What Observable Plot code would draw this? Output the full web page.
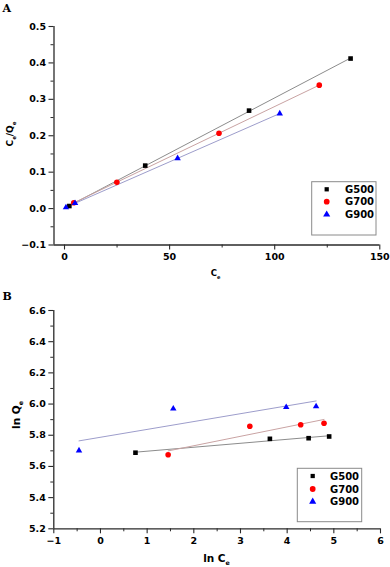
<!DOCTYPE html>
<html><head><meta charset="utf-8">
<script src="https://cdn.jsdelivr.net/npm/d3@7"></script>
<script src="https://cdn.jsdelivr.net/npm/@observablehq/plot@0.6"></script>
<style>
body{margin:0;background:#fff}
#fig{position:relative;width:390px;height:567px;overflow:hidden;background:#fff}
#fig svg{position:absolute;left:0;display:block;overflow:visible}
</style></head><body><div id="fig"></div>
<script>
// ---- shared series info ----
const seriesNames = ["G500", "G700", "G900"];
const seriesSymbols = ["square", "circle", "triangle"];
const seriesFills = ["#000000", "#ff0000", "#0000ff"];
const seriesLineColors = ["#8c8c8c", "#c9a3a3", "#9d9dcb"];
const seriesR = [2.6, 2.8, 2.4];

// ---- Panel A (Ce vs Ce/Qe) ----
const ceA_G500 = [2.3, 38.4, 87.8, 136.1];
const cqA_G500 = [0.007, 0.118, 0.269, 0.412];
const ceA_G700 = [4.4, 24.9, 73.5, 121.2];
const cqA_G700 = [0.016, 0.072, 0.207, 0.339];
const ceA_G900 = [0.7, 5.0, 53.8, 102.4];
const cqA_G900 = [0.003, 0.015, 0.138, 0.261];
const xDomainA = [-5, 150];
const yDomainA = [-0.1, 0.5];
const xTicksA = [0, 50, 100, 150];
const xMinorA = [25, 75, 125];
const yTicksA = [-0.1, 0.0, 0.1, 0.2, 0.3, 0.4, 0.5];
const yMinorA = [-0.05, 0.05, 0.15, 0.25, 0.35, 0.45];

// ---- Panel B (ln Ce vs ln Qe) ----
const lnCeB_G500 = [0.75, 3.63, 4.46, 4.90];
const lnQeB_G500 = [5.688, 5.777, 5.781, 5.792];
const lnCeB_G700 = [1.45, 3.20, 4.29, 4.79];
const lnQeB_G700 = [5.675, 5.858, 5.867, 5.877];
const lnCeB_G900 = [-0.46, 1.56, 3.98, 4.62];
const lnQeB_G900 = [5.702, 5.970, 5.980, 5.985];
const xDomainB = [-1, 6];
const yDomainB = [5.2, 6.6];
const xTicksB = [-1, 0, 1, 2, 3, 4, 5, 6];
const xMinorB = [-0.5, 0.5, 1.5, 2.5, 3.5, 4.5, 5.5];
const yTicksB = [5.2, 5.4, 5.6, 5.8, 6.0, 6.2, 6.4, 6.6];
const yMinorB = [5.3, 5.5, 5.7, 5.9, 6.1, 6.3, 6.5];

function rows(xs, ys) { return xs.map((x, i) => ({x, y: ys[i]})); }

const seriesA = [rows(ceA_G500, cqA_G500), rows(ceA_G700, cqA_G700), rows(ceA_G900, cqA_G900)];
const seriesB = [rows(lnCeB_G500, lnQeB_G500), rows(lnCeB_G700, lnQeB_G700), rows(lnCeB_G900, lnQeB_G900)];

const AXIS = "#2a2a2a";
const FONT = "DejaVu Sans";

function makePanel(o) {
  const marks = [];
  o.series.forEach((data, i) => {
    marks.push(Plot.linearRegressionY(data, {x: "x", y: "y", stroke: seriesLineColors[i], strokeWidth: 1, ci: 0}));
  });
  o.series.forEach((data, i) => {
    marks.push(Plot.dot(data, {x: "x", y: "y", symbol: seriesSymbols[i], fill: seriesFills[i], stroke: "none", r: seriesR[i]}));
  });
  marks.push(
    Plot.ruleY([o.yDomain[0]], {stroke: AXIS, strokeWidth: 1.3}),
    Plot.ruleX([o.xDomain[0]], {stroke: AXIS, strokeWidth: 1.3}),
    Plot.axisX({ticks: o.xTicks, tickSize: 5, tickPadding: 3, tickFormat: o.fx, label: null, stroke: AXIS, strokeWidth: 1.1}),
    Plot.axisX({ticks: o.xMinor, tickSize: 3, tickFormat: () => "", label: null, stroke: AXIS, strokeWidth: 1}),
    Plot.axisY({ticks: o.yTicks, tickSize: 5, tickPadding: 3, tickFormat: o.fy, label: null, stroke: AXIS, strokeWidth: 1.1}),
    Plot.axisY({ticks: o.yMinor, tickSize: 3, tickFormat: () => "", label: null, stroke: AXIS, strokeWidth: 1})
  );
  const svg = Plot.plot({
    width: 390,
    height: o.height,
    marginTop: o.mt, marginBottom: o.mb, marginLeft: o.ml, marginRight: o.mr,
    x: {domain: o.xDomain, label: null},
    y: {domain: o.yDomain, label: null},
    style: {fontFamily: FONT, fontWeight: "bold", fontSize: "9.5px", color: "#000", background: "transparent", overflow: "visible"},
    marks
  });
  svg.style.top = o.top + "px";
  return svg;
}

const fig = document.getElementById("fig");

const svgA = makePanel({
  top: 0, height: 283, mt: 26, mb: 38.5, ml: 53.5, mr: 10.7,
  xDomain: xDomainA, yDomain: yDomainA, xTicks: xTicksA, xMinor: xMinorA, yTicks: yTicksA, yMinor: yMinorA,
  fx: d3.format("d"), fy: d3.format(".1f"), series: seriesA
});
const svgB = makePanel({
  top: 283, height: 284, mt: 27, mb: 38.7, ml: 53.3, mr: 10,
  xDomain: xDomainB, yDomain: yDomainB, xTicks: xTicksB, xMinor: xMinorB, yTicks: yTicksB, yMinor: yMinorB,
  fx: d3.format("d"), fy: d3.format(".1f"), series: seriesB
});
fig.appendChild(svgA);
fig.appendChild(svgB);

function label(svg, x, y, rot, parts, size) {
  const t = d3.select(svg).append("text")
    .attr("transform", `translate(${x},${y}) rotate(${rot})`)
    .attr("text-anchor", "middle")
    .attr("font-family", FONT).attr("font-weight", "bold")
    .attr("font-size", size).attr("fill", "#000");
  parts.forEach(p => {
    if (p.sub) {
      t.append("tspan").attr("font-size", size * 0.6).attr("dy", size * 0.28).text(p.t);
    } else {
      t.append("tspan").attr("dy", p.after ? -size * 0.28 : 0).text(p.t);
    }
  });
}

function panelLetter(svg, x, y, s) {
  d3.select(svg).append("text").attr("x", x).attr("y", y)
    .attr("text-anchor", "start")
    .attr("font-family", "DejaVu Serif").attr("font-weight", "bold").attr("font-size", 11)
    .attr("fill", "#000").text(s);
}

function legend(svg, x0, y0, w, h, mx, tx, rowsY) {
  const g = d3.select(svg).append("g").attr("text-anchor", "start");
  g.append("rect").attr("x", x0).attr("y", y0).attr("width", w).attr("height", h)
    .attr("fill", "#fff").attr("stroke", "#8a8a8a").attr("stroke-width", 1);
  const types = [d3.symbolSquare, d3.symbolCircle, d3.symbolTriangle];
  const sizes = [18, 26, 22];
  seriesNames.forEach((n, i) => {
    g.append("path").attr("transform", `translate(${mx},${rowsY[i]})`)
      .attr("d", d3.symbol().type(types[i]).size(sizes[i])()).attr("fill", seriesFills[i]);
    g.append("text").attr("x", tx).attr("y", rowsY[i]).attr("dy", "0.36em")
      .attr("text-anchor", "start")
      .attr("font-family", FONT).attr("font-weight", "bold").attr("font-size", 10)
      .attr("fill", "#000").text(n);
  });
}

// Panel A texts
panelLetter(svgA, 2.5, 11.5, "A");
label(svgA, 13, 134, -90, [{t: "C"}, {t: "e", sub: true}, {t: "/Q", after: true}, {t: "e", sub: true}], 9);
label(svgA, 215.5, 276.3, 0, [{t: "C"}, {t: "e", sub: true}], 8.5);
legend(svgA, 311.7, 181.7, 64.3, 53.3, 326.7, 345, [189.3, 201.7, 214.5]);

// Panel B texts
panelLetter(svgB, 2.5, 16.5, "B");
label(svgB, 20, 132, -90, [{t: "ln Q"}, {t: "e", sub: true}], 10.5);
label(svgB, 216.5, 278.7, 0, [{t: "ln C"}, {t: "e", sub: true}], 10.5);
legend(svgB, 297.3, 185.3, 64.4, 53.4, 312.7, 330, [193, 206, 218.7]);
</script>
</body></html>
